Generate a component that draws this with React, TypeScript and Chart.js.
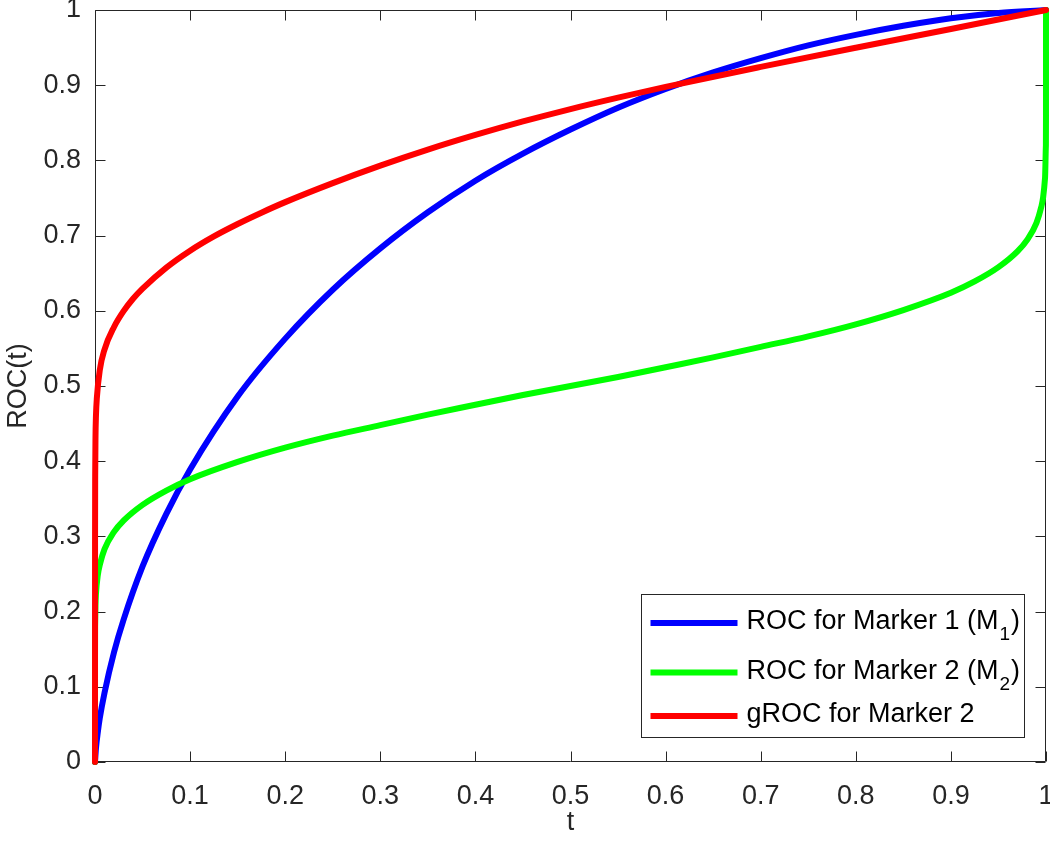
import React, { useEffect, useRef } from "react";
import { Chart, registerables } from "chart.js";

Chart.register(...registerables);

// ---- data ----
const tBlue = [0, 0.001, 0.003, 0.005, 0.01, 0.02, 0.03, 0.05, 0.075, 0.1, 0.15, 0.2, 0.25, 0.3, 0.35, 0.4, 0.45, 0.5, 0.55, 0.6, 0.65, 0.7, 0.75, 0.8, 0.85, 0.9, 0.95, 1];
const rocMarker1 = [0, 0.018, 0.04, 0.058, 0.092, 0.146, 0.189, 0.26, 0.33, 0.389, 0.486, 0.563, 0.628, 0.683, 0.731, 0.773, 0.809, 0.841, 0.87, 0.895, 0.917, 0.936, 0.953, 0.967, 0.979, 0.989, 0.996, 1];

const tGreen = [0, 0.00001, 0.0001, 0.0005, 0.001, 0.003, 0.005, 0.01, 0.02, 0.03, 0.05, 0.075, 0.1, 0.15, 0.2, 0.25, 0.3, 0.35, 0.4, 0.45, 0.5, 0.55, 0.6, 0.65, 0.7, 0.75, 0.8, 0.85, 0.9, 0.925, 0.95, 0.97, 0.98, 0.99, 0.995, 0.997, 0.999, 0.9999, 0.99999, 1];
const rocMarker2 = [0, 0.14, 0.18, 0.208, 0.223, 0.249, 0.262, 0.283, 0.306, 0.321, 0.342, 0.361, 0.376, 0.399, 0.418, 0.434, 0.448, 0.462, 0.475, 0.488, 0.5, 0.512, 0.525, 0.538, 0.552, 0.566, 0.582, 0.601, 0.624, 0.639, 0.658, 0.679, 0.694, 0.717, 0.738, 0.751, 0.777, 0.82, 0.86, 1];

const tRed = [0, 0.00005, 0.0002, 0.0005, 0.001, 0.002, 0.005, 0.01, 0.02, 0.03, 0.04, 0.05, 0.075, 0.1, 0.125, 0.15, 0.175, 0.2, 0.25, 0.3, 0.35, 0.4, 0.45, 0.5, 0.55, 0.6, 0.7, 0.8, 0.9, 1];
const gRocMarker2 = [0, 0.29, 0.38, 0.43, 0.46, 0.485, 0.521, 0.5485, 0.5785, 0.5995, 0.616, 0.6295, 0.6575, 0.68, 0.699, 0.7155, 0.7305, 0.7445, 0.7698, 0.793, 0.8143, 0.8338, 0.8518, 0.8683, 0.8835, 0.8978, 0.9243, 0.9498, 0.9748, 1];

const xTickLabels = ["0", "0.1", "0.2", "0.3", "0.4", "0.5", "0.6", "0.7", "0.8", "0.9", "1"];
const yTickLabels = ["0", "0.1", "0.2", "0.3", "0.4", "0.5", "0.6", "0.7", "0.8", "0.9", "1"];

const legendEntries = [
  { main: "ROC for Marker 1 (M", sub: "1", tail: ")", color: "#0000FF" },
  { main: "ROC for Marker 2 (M", sub: "2", tail: ")", color: "#00FF00" },
  { main: "gROC for Marker 2", sub: "", tail: "", color: "#FF0000" },
];

const FONT = "'Liberation Sans', Arial, Helvetica, sans-serif";
const AXIS_COLOR = "#262626";

const toPoints = (xs: number[], ys: number[]) => xs.map((x, i) => ({ x, y: ys[i] }));

const axesPlugin = {
  id: "matlabAxes",
  beforeDatasetsDraw(chart: any) {
    const { ctx, chartArea, scales } = chart;
    const { left, right, top, bottom } = chartArea;
    const tick = 10;
    ctx.save();
    ctx.strokeStyle = AXIS_COLOR;
    ctx.lineWidth = 1;
    ctx.beginPath();
    const L = Math.round(left) + 0.5;
    const R = Math.round(right) - 0.5;
    const T = Math.round(top) + 0.5;
    const B = Math.round(bottom) - 0.5;
    ctx.rect(L, T, R - L, B - T);
    scales.x.ticks.forEach((t: any) => {
      const px = Math.round(scales.x.getPixelForValue(t.value)) + 0.5;
      ctx.moveTo(px, B);
      ctx.lineTo(px, B - tick);
      ctx.moveTo(px, T);
      ctx.lineTo(px, T + tick);
    });
    scales.y.ticks.forEach((t: any) => {
      const py = Math.round(scales.y.getPixelForValue(t.value)) + 0.5;
      ctx.moveTo(L, py);
      ctx.lineTo(L + tick, py);
      ctx.moveTo(R, py);
      ctx.lineTo(R - tick, py);
    });
    ctx.stroke();
    ctx.restore();
  },
};

const legendPlugin = {
  id: "matlabLegend",
  afterDatasetsDraw(chart: any) {
    const { ctx, chartArea } = chart;
    const boxRight = chartArea.right - 22;
    const boxBottom = chartArea.bottom - 25;
    const boxW = 383;
    const boxH = 143;
    const bx = Math.round(boxRight - boxW) + 0.5;
    const by = Math.round(boxBottom - boxH) + 0.5;
    ctx.save();
    ctx.fillStyle = "#FFFFFF";
    ctx.fillRect(bx, by, boxW, boxH);
    ctx.strokeStyle = AXIS_COLOR;
    ctx.lineWidth = 1;
    ctx.strokeRect(bx, by, boxW, boxH);
    const rowY = [28.5, 78, 121.5];
    legendEntries.forEach((e, i) => {
      const ly = by + rowY[i];
      ctx.strokeStyle = e.color;
      ctx.lineWidth = 6;
      ctx.lineCap = "butt";
      ctx.beginPath();
      ctx.moveTo(bx + 9, ly);
      ctx.lineTo(bx + 96, ly);
      ctx.stroke();
      ctx.fillStyle = "#000000";
      ctx.textBaseline = "alphabetic";
      ctx.textAlign = "left";
      ctx.font = `27px ${FONT}`;
      let tx = bx + 105;
      const base = ly + 6;
      ctx.fillText(e.main, tx, base);
      tx += ctx.measureText(e.main).width;
      if (e.sub) {
        ctx.font = `19px ${FONT}`;
        ctx.fillText(e.sub, tx + 1, base + 11);
        tx += ctx.measureText(e.sub).width + 2;
      }
      if (e.tail) {
        ctx.font = `27px ${FONT}`;
        ctx.fillText(e.tail, tx, base);
      }
    });
    ctx.restore();
  },
};

export default function App() {
  const canvasRef = useRef<HTMLCanvasElement | null>(null);

  useEffect(() => {
    document.body.style.margin = "0";
    const canvas = canvasRef.current;
    if (!canvas) return;
    const lineStyle = {
      borderWidth: 6,
      pointRadius: 0,
      showLine: true,
      fill: false,
      cubicInterpolationMode: "monotone" as const,
      borderJoinStyle: "round" as const,
      borderCapStyle: "round" as const,
      clip: false as const,
    };
    const chart = new Chart(canvas, {
      type: "scatter",
      data: {
        datasets: [
          { label: "ROC for Marker 1 (M1)", data: toPoints(tBlue, rocMarker1), borderColor: "#0000FF", backgroundColor: "#0000FF", order: 3, ...lineStyle },
          { label: "ROC for Marker 2 (M2)", data: toPoints(tGreen, rocMarker2), borderColor: "#00FF00", backgroundColor: "#00FF00", order: 2, ...lineStyle },
          { label: "gROC for Marker 2", data: toPoints(tRed, gRocMarker2), borderColor: "#FF0000", backgroundColor: "#FF0000", order: 1, ...lineStyle },
        ],
      },
      options: {
        responsive: false,
        animation: false,
        devicePixelRatio: 1,
        layout: { padding: { top: 10, right: 4, left: 0, bottom: 0 } },
        plugins: { legend: { display: false }, tooltip: { enabled: false } },
        scales: {
          x: {
            type: "linear",
            min: 0,
            max: 1,
            grid: { display: false, drawTicks: false },
            border: { display: false },
            ticks: {
              stepSize: 0.1,
              padding: 18,
              color: AXIS_COLOR,
              font: { family: FONT, size: 27 },
              maxRotation: 0,
              autoSkip: false,
              callback: (_v: any, i: number) => xTickLabels[i],
            },
            title: {
              display: true,
              text: "t",
              color: AXIS_COLOR,
              font: { family: FONT, size: 27 },
              padding: { top: 0, bottom: 8 },
            },
            afterFit: (s: any) => {
              s.height = 85;
              s.paddingLeft = 0;
              s.paddingRight = 0;
            },
          },
          y: {
            type: "linear",
            min: 0,
            max: 1,
            grid: { display: false, drawTicks: false },
            border: { display: false },
            ticks: {
              stepSize: 0.1,
              padding: 14,
              color: AXIS_COLOR,
              font: { family: FONT, size: 27 },
              autoSkip: false,
              callback: (_v: any, i: number) => yTickLabels[i],
            },
            title: {
              display: true,
              text: "ROC(t)",
              color: AXIS_COLOR,
              font: { family: FONT, size: 27 },
              padding: { top: 2, bottom: 0 },
            },
            afterFit: (s: any) => {
              s.width = 95;
              s.paddingTop = 0;
              s.paddingBottom = 0;
            },
          },
        },
      },
      plugins: [axesPlugin, legendPlugin],
    });
    return () => chart.destroy();
  }, []);

  return (
    <canvas
      ref={canvasRef}
      width={1050}
      height={847}
      style={{ display: "block", width: 1050, height: 847 }}
    />
  );
}
